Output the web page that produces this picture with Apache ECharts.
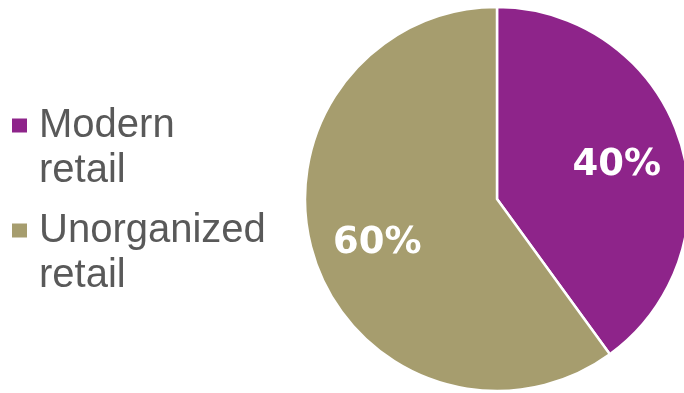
<!DOCTYPE html>
<html><head><meta charset="utf-8">
<script src="https://cdn.jsdelivr.net/npm/echarts@6/dist/echarts.min.js"></script>
<style>html,body{margin:0;padding:0;background:#fff}#c{width:684px;height:393px}</style>
</head><body><div id="c"></div>
<script>
const categories = ['Modern retail', 'Unorganized retail'];
const values = [40, 60];
const colors = ['#8E248A', '#A69D6E'];

const data = categories.map((n, i) => ({ name: n, value: values[i], itemStyle: { color: colors[i] } }));
const legendText = {
  fontFamily: 'Liberation Sans, Arial, sans-serif', fontSize: 40, color: '#595959',
  lineHeight: 45, padding: [0, 0, 0, 6]
};
const fmt = n => ' \n' + n.replace(' ', '\n');
const chart = echarts.init(document.getElementById('c'), null, { renderer: 'canvas' });
chart.setOption({
  animation: false,
  legend: [
    { data: [categories[0]], left: 10, top: 58, padding: 0, icon: 'rect', itemWidth: 17, itemHeight: 16,
      formatter: fmt, textStyle: legendText, selectedMode: false },
    { data: [categories[1]], left: 10, top: 163, padding: 0, icon: 'rect', itemWidth: 17, itemHeight: 16,
      formatter: fmt, textStyle: legendText, selectedMode: false }
  ],
  series: [
    { type: 'pie', center: [497, 199], radius: 192, startAngle: 90, clockwise: true,
      itemStyle: { borderColor: '#fff', borderWidth: 2.5 },
      label: { show: false }, labelLine: { show: false }, emphasis: { disabled: true },
      data: data },
    { type: 'pie', center: [497, 199], radius: [54, 192], startAngle: 90, clockwise: true,
      silent: true, emphasis: { disabled: true },
      itemStyle: { color: 'transparent', borderWidth: 0 },
      label: { show: true, position: 'inside', formatter: '{c}%', color: '#fff', offset: [0, 5],
        fontFamily: 'DejaVu Sans, sans-serif', fontWeight: 'bold', fontSize: 37 },
      labelLine: { show: false },
      data: categories.map((n, i) => ({ name: n, value: values[i], itemStyle: { color: 'transparent' } })) }
  ]
});
</script></body></html>
